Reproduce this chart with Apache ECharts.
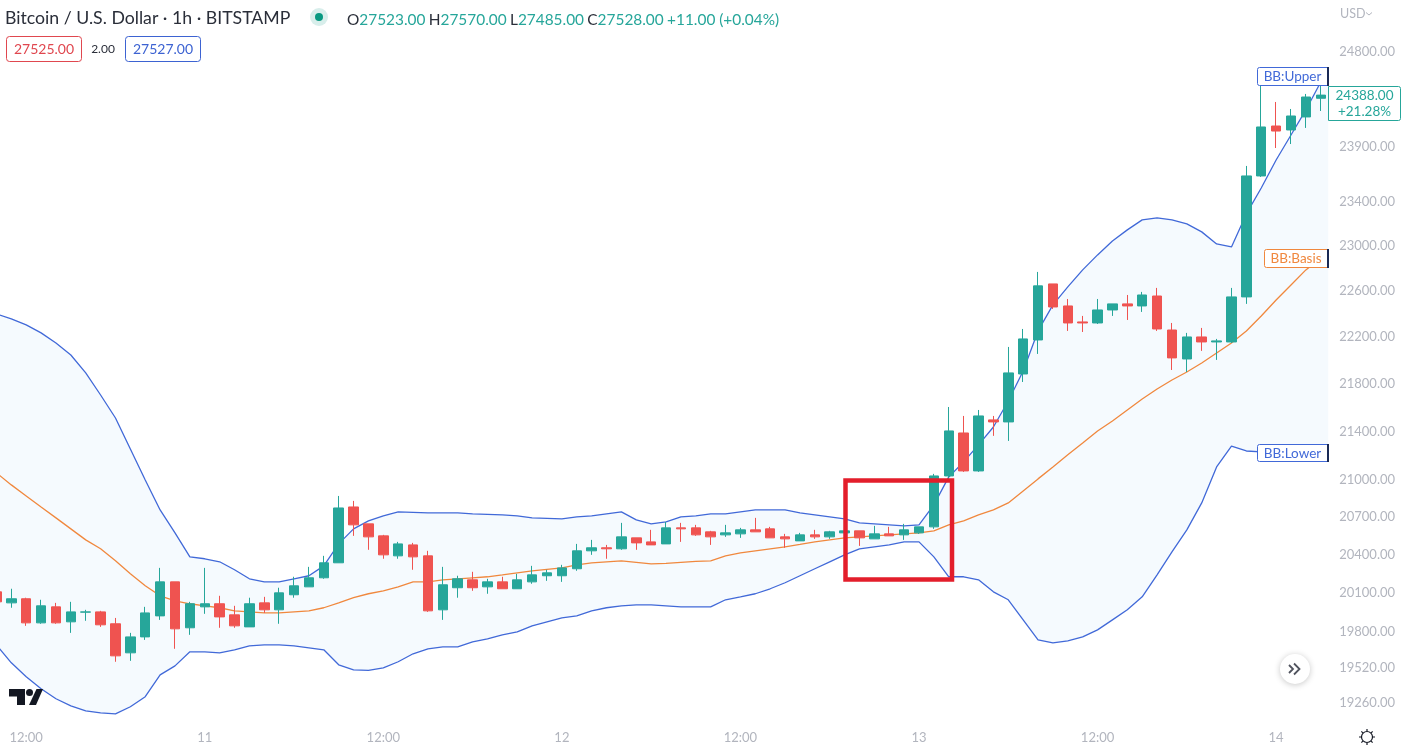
<!DOCTYPE html>
<html>
<head>
<meta charset="utf-8">
<title>BTCUSD 1h</title>
<script src="https://cdn.jsdelivr.net/npm/echarts@6/dist/echarts.min.js"></script>
<style>
  html, body { margin: 0; padding: 0; background: #fff; }
  #main { width: 1403px; height: 749px; }
</style>
</head>
<body>
<div id="main"></div>
<script>
// hourly candles, first one is 10:00 on the 10th
const opens = [20108,20022,20054,19867,19991,19875,19950,19952,19860,19637,19759,19921,20186,19829,19991,20015,19929,19836,20022,19968,
  20085,20147,20218,20336,20782,20646,20550,20391,20478,20391,19968,20140,20202,20147,20186,20132,20186,20234,20234,20289,
  20431,20455,20447,20534,20502,20486,20614,20614,20582,20558,20566,20598,20606,20542,20510,20558,20542,20574,20590,20526,
  20566,20558,20574,20622,21034,21388,21075,21497,21480,21884,22175,22663,22470,22331,22322,22435,22488,22470,22557,22261,
  22012,22201,22158,22158,22549,23634,24097,24060,24182,24358];
const closes = [20030,20054,19867,19999,19867,19952,19952,19852,19614,19759,19944,20186,19821,20015,20015,19913,19844,20015,19968,20100,
  20155,20218,20336,20774,20638,20542,20399,20486,20383,19960,20163,20210,20140,20186,20132,20202,20241,20257,20296,20431,
  20455,20447,20542,20494,20478,20614,20606,20558,20542,20574,20598,20582,20534,20526,20558,20542,20582,20590,20534,20566,
  20550,20598,20622,21034,21405,21075,21530,21480,21893,22184,22646,22461,22322,22322,22435,22488,22470,22566,22270,22021,
  22201,22158,22167,22549,23634,24088,24050,24191,24370,24388];
const lows = [20015,19984,19844,19860,19860,19790,19883,19836,19569,19576,19736,19890,19668,19775,19937,19829,19829,19836,19944,19860,
  20062,20147,20210,20336,20550,20439,20368,20368,20281,19952,19890,20062,20116,20093,20132,20132,20171,20194,20186,20273,
  20399,20368,20439,20439,20478,20486,20502,20550,20478,20542,20534,20582,20534,20455,20510,20526,20526,20574,20470,20526,
  20550,20518,20566,20606,21001,21067,21067,21364,21322,21816,22055,22444,22253,22244,22313,22383,22348,22418,22253,21918,
  21901,22081,22004,22149,22488,23625,23892,23929,24079,24238];
const highs = [20124,20132,20062,20046,20022,20030,19968,19960,19905,19790,19991,20296,20186,20030,20296,20077,19999,20062,20069,20140,
  20226,20304,20391,20871,20831,20646,20558,20502,20494,20431,20304,20234,20265,20210,20226,20249,20312,20281,20320,20486,
  20518,20478,20654,20534,20598,20662,20654,20638,20590,20638,20614,20694,20622,20566,20574,20598,20590,20590,20590,20630,
  20622,20646,20622,21051,21605,21530,21580,21530,22115,22270,22769,22663,22531,22383,22531,22488,22566,22593,22628,22322,
  22236,22279,22184,22628,23726,24475,24323,24257,24399,24484];

// bollinger bands
const bbUpper = [22401,22357,22305,22236,22149,22046,21893,21706,21513,21256,21001,20758,20574,20383,20368,20344,20281,20210,20186,20186,
  20210,20234,20312,20486,20606,20670,20710,20742,20738,20734,20734,20734,20726,20722,20718,20710,20694,20690,20686,20702,
  20710,20726,20742,20678,20646,20662,20702,20710,20726,20726,20742,20758,20758,20758,20734,20718,20702,20686,20654,20646,
  20638,20630,20638,20799,21026,21149,21289,21438,21655,21909,22253,22479,22637,22787,22920,23045,23144,23234,23252,23234,
  23198,23126,23018,22991,23288,23524,23781,24013,24248,24513];
const bbBasis = [21059,20961,20871,20782,20694,20606,20518,20447,20352,20249,20155,20077,20038,20015,19999,19984,19960,19952,19944,19944,
  19952,19960,19984,20022,20062,20093,20116,20147,20186,20186,20202,20210,20218,20226,20241,20257,20273,20285,20296,20320,
  20336,20344,20352,20340,20328,20332,20340,20348,20352,20391,20415,20431,20447,20463,20482,20502,20518,20534,20542,20550,
  20558,20566,20574,20590,20638,20670,20718,20758,20815,20912,21010,21108,21207,21305,21405,21488,21580,21672,21756,21833,
  21901,21977,22063,22149,22253,22383,22522,22654,22787,22893];
const bbLower = [19698,19561,19455,19365,19290,19237,19200,19185,19177,19230,19305,19470,19538,19645,19645,19637,19660,19690,19698,19698,
  19690,19675,19660,19546,19508,19504,19523,19569,19630,19668,19683,19683,19721,19744,19775,19798,19844,19875,19905,19921,
  19960,19984,19999,20007,20007,19999,19991,19991,19991,20046,20069,20093,20132,20179,20234,20289,20344,20399,20447,20463,
  20478,20502,20502,20383,20226,20226,20202,20108,20046,19890,19736,19713,19729,19759,19813,19890,19968,20069,20241,20423,
  20598,20815,21108,21280,21239,21231,21231,21231,21231,21231];

const priceTicks = [24800,23900,23400,23000,22600,22200,21800,21400,21000,20700,20400,20100,19800,19520,19260];

const hours = opens.map((_, i) => i + 10); // hours since the 10th 00:00
const categories = hours.map(h => h % 24 === 0 ? String(10 + h / 24) : h % 24 === 12 ? '12:00' : '');
const candles = opens.map((o, i) => [o, closes[i], lows[i], highs[i]]);

const GREEN = '#26a69a', RED = '#ef5350', BLUE = '#4169d8', ORANGE = '#f0883e';
const GREY = '#b2b5be', DARK = '#2a2e39';
const FONT = 'Lato';

function pill(text, left, top, width, height, color) {
  return [
    { type: 'rect', shape: { x: left + .5, y: top + .5, width: width, height: height, r: [2, 0, 0, 2] },
      style: { fill: '#fff', stroke: color, lineWidth: 1 }, z: 50 },
    { type: 'rect', shape: { x: left + width - 1, y: top, width: 2, height: height + 1 },
      style: { fill: '#1a2a55' }, z: 51 },
    { type: 'text', x: left + width / 2, y: top + height / 2 + 1, z: 52,
      style: { text: text, fill: color, font: '13.5px ' + FONT, align: 'center', verticalAlign: 'middle' } }
  ];
}

const chart = echarts.init(document.getElementById('main'));
chart.setOption({
  backgroundColor: '#fff',
  animation: false,
  textStyle: { fontFamily: FONT },
  grid: { left: -11, top: 0, width: 1339.2, height: 723, outerBoundsMode: 'none', containLabel: false },
  xAxis: {
    type: 'category',
    data: categories,
    boundaryGap: true,
    axisLine: { show: false },
    axisTick: { show: false },
    splitLine: { show: false },
    axisLabel: { interval: 0, color: GREY, fontSize: 13, margin: 8, fontFamily: FONT }
  },
  yAxis: {
    type: 'log',
    logBase: 10,
    min: 19109,
    max: 25306,
    position: 'right',
    axisLine: { show: false },
    axisTick: { show: false },
    splitLine: { show: false },
    minorTick: { show: false },
    axisLabel: {
      customValues: priceTicks,
      color: GREY,
      fontSize: 13,
      margin: 11,
      padding: [2, 0, 0, 0],
      fontFamily: FONT,
      formatter: v => Number(v).toFixed(2)
    }
  },
  series: [
    {
      // band fill between upper and lower
      type: 'custom',
      z: 1,
      silent: true,
      clip: true,
      data: [[0]],
      encode: { x: 0 },
      renderItem: function (params, api) {
        const pts = [];
        const half = api.size([1, 0])[0] / 2;
        bbUpper.forEach((v, i) => pts.push(api.coord([i, v])));
        const e1 = pts[pts.length - 1];
        pts.push([e1[0] + half, e1[1]]);
        const e2 = api.coord([bbLower.length - 1, bbLower[bbLower.length - 1]]);
        pts.push([e2[0] + half, e2[1]]);
        for (let i = bbLower.length - 1; i >= 0; i--) pts.push(api.coord([i, bbLower[i]]));
        return { type: 'polygon', shape: { points: pts }, style: { fill: '#f5fafe' } };
      }
    },
    { name: 'BB:Upper', type: 'line', z: 2, data: bbUpper, showSymbol: false, silent: true,
      lineStyle: { color: BLUE, width: 1.3 } },
    { name: 'BB:Lower', type: 'line', z: 2, data: bbLower, showSymbol: false, silent: true,
      lineStyle: { color: BLUE, width: 1.3 } },
    { name: 'BB:Basis', type: 'line', z: 2, data: bbBasis, showSymbol: false, silent: true,
      lineStyle: { color: ORANGE, width: 1.3 } },
    {
      type: 'candlestick',
      z: 3,
      data: candles,
      barWidth: 10,
      itemStyle: { color: GREEN, color0: RED, borderColor: GREEN, borderColor0: RED, borderWidth: 1 }
    }
  ],
  graphic: [
    // header
    { type: 'text', x: 5, y: 18, style: { text: 'Bitcoin / U.S. Dollar · 1h · BITSTAMP', fill: DARK,
        font: '17.7px ' + FONT, verticalAlign: 'middle' } },
    { type: 'circle', shape: { cx: 319, cy: 17, r: 9 }, style: { fill: '#d8eeeb' } },
    { type: 'circle', shape: { cx: 319, cy: 17, r: 4 }, style: { fill: '#089981' } },
    { type: 'text', x: 347, y: 20, style: {
        text: '{k|O}{v|27523.00} {k|H}{v|27570.00} {k|L}{v|27485.00} {k|C}{v|27528.00} {v|+11.00 (+0.04%)}',
        verticalAlign: 'middle',
        rich: {
          k: { fill: DARK, font: '15.4px ' + FONT },
          v: { fill: GREEN, font: '15.4px ' + FONT }
        } } },
    { type: 'rect', shape: { x: 6.5, y: 36.5, width: 75, height: 25, r: 3 }, style: { fill: '#fff', stroke: '#e0474f', lineWidth: 1 } },
    { type: 'text', x: 44, y: 49, style: { text: '27525.00', fill: '#e0474f', font: '14px ' + FONT, align: 'center', verticalAlign: 'middle' } },
    { type: 'text', x: 103, y: 49, style: { text: '2.00', fill: DARK, font: '12px ' + FONT, align: 'center', verticalAlign: 'middle' } },
    { type: 'rect', shape: { x: 125.5, y: 36.5, width: 75, height: 25, r: 3 }, style: { fill: '#fff', stroke: '#3d63d2', lineWidth: 1 } },
    { type: 'text', x: 163, y: 49, style: { text: '27527.00', fill: '#3d63d2', font: '14px ' + FONT, align: 'center', verticalAlign: 'middle' } },
    // currency
    { type: 'text', x: 1340, y: 14, style: { text: 'USD', fill: GREY, font: '12.5px ' + FONT, verticalAlign: 'middle' } },
    { type: 'polyline', shape: { points: [[1366, 12.5], [1369, 15], [1372, 12.5]] }, style: { fill: null, stroke: GREY, lineWidth: 1 } },
    // series tags
    ...pill('BB:Upper', 1257, 67, 71, 18, BLUE),
    ...pill('BB:Basis', 1264, 249, 64, 18, ORANGE),
    ...pill('BB:Lower', 1257, 444, 71, 17, BLUE),
    { type: 'rect', shape: { x: 1328.5, y: 86.5, width: 72, height: 34, r: [0, 2, 2, 0] }, z: 50,
      style: { fill: '#fff', stroke: GREEN, lineWidth: 1 } },
    { type: 'text', x: 1364.5, y: 96, z: 52, style: { text: '24388.00', fill: GREEN, font: '13.5px ' + FONT, align: 'center', verticalAlign: 'middle' } },
    { type: 'text', x: 1364.5, y: 112, z: 52, style: { text: '+21.28%', fill: GREEN, font: '13.5px ' + FONT, align: 'center', verticalAlign: 'middle' } },
    // highlight box
    { type: 'rect', shape: { x: 845.5, y: 480.5, width: 106.5, height: 99 }, z: 60,
      style: { fill: null, stroke: '#e31e2b', lineWidth: 4.5 } },
    // logo
    { type: 'polygon', shape: { points: [[9, 689], [25, 689], [25, 705], [17, 705], [17, 696.5], [9, 696.5]] }, style: { fill: '#131722' }, z: 40 },
    { type: 'circle', shape: { cx: 29.5, cy: 692.5, r: 3.5 }, style: { fill: '#131722' }, z: 40 },
    { type: 'polygon', shape: { points: [[36.5, 689], [43, 689], [36, 705], [29, 705]] }, style: { fill: '#131722' }, z: 40 },
    // scroll button
    { type: 'circle', shape: { cx: 1295, cy: 669, r: 15 }, z: 40,
      style: { fill: '#fff', shadowBlur: 6, shadowColor: 'rgba(0,0,0,.22)', shadowOffsetY: 1 } },
    { type: 'polyline', shape: { points: [[1289, 665], [1293, 669], [1289, 673]] }, z: 41, style: { fill: null, stroke: '#50535e', lineWidth: 1.8 } },
    { type: 'polyline', shape: { points: [[1294, 663.5], [1299.5, 669], [1294, 674.5]] }, z: 41, style: { fill: null, stroke: '#50535e', lineWidth: 1.8 } },
    // settings icon
    { type: 'circle', shape: { cx: 1367, cy: 737, r: 5.5 }, style: { fill: '#fff', stroke: '#131722', lineWidth: 1.2 } },
    ...[[0, -8, 0, -6], [0, 6, 0, 8], [-8, 0, -6, 0], [6, 0, 8, 0], [-5.6, -5.6, -4.2, -4.2], [4.2, 4.2, 5.6, 5.6], [-5.6, 5.6, -4.2, 4.2], [4.2, -4.2, 5.6, -5.6]].map(r => ({
      type: 'line', shape: { x1: 1367 + r[0], y1: 737 + r[1], x2: 1367 + r[2], y2: 737 + r[3] }, style: { stroke: '#131722', lineWidth: 1.2 }
    }))
  ]
});
</script>
</body>
</html>
